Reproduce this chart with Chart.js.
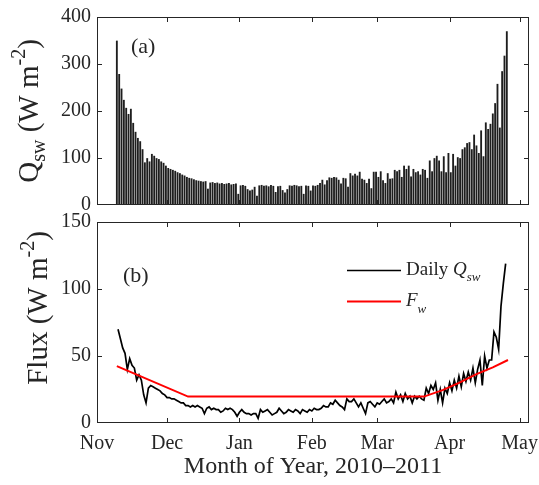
<!DOCTYPE html>
<html>
<head>
<meta charset="utf-8">
<script src="https://cdn.jsdelivr.net/npm/chart.js@4/dist/chart.umd.min.js"></script>
<style>
  html, body { margin: 0; padding: 0; background: #fff; }
  #wrap { position: relative; width: 539px; height: 485px; }
  .panel { position: absolute; left: 0; width: 539px; }
</style>
</head>
<body>
<div id="wrap">
  <div class="panel" style="top:0;height:212px"><canvas id="chartTop"></canvas></div>
  <div class="panel" style="top:212px;height:273px"><canvas id="chartBottom"></canvas></div>
</div>
<script>
// month ticks (days since 1 Nov 2010)
const monthDays = [0, 30, 61, 92, 120, 151, 181];
const monthLabels = ['Nov', 'Dec', 'Jan', 'Feb', 'Mar', 'Apr', 'May'];
const qswTicks = [0, 100, 200, 300, 400];
const fluxTicks = [0, 50, 100, 150];

// (a) noon peak of hourly Q_sw, one per day, first one on 9 Nov
const peakFirstDay = 8.5;
const hourlyPeak = [349, 278, 247, 223, 206, 193, 204, 174, 155, 142, 135, 118, 90, 99, 92, 108, 104, 99, 97, 92, 89, 83, 78,
  76, 74, 72, 69, 67, 64, 62, 59, 57, 56, 54, 52, 51, 50, 49, 50,
  34, 47, 48, 46, 47, 45, 46, 44, 45, 46, 43, 44, 45, 23,
  41, 42, 40, 33, 30, 32, 38, 19, 41, 42, 40, 41, 39, 42, 40, 27,
  39, 40, 31, 26, 33, 41, 40, 42, 41, 39, 40, 23, 41, 40, 30, 41, 40, 42, 46,
  53, 43, 52, 58, 57, 59, 58, 53, 45, 57, 56, 38,
  67, 62, 66, 62, 70, 55, 53, 46, 55, 35, 70, 70, 59, 71, 52, 46,
  67, 55, 56, 74, 71, 74, 59, 83, 76, 83, 60, 76, 69, 71, 64, 76, 74, 57,
  94, 71, 99, 104, 94, 71, 103, 69, 110, 69, 108, 83, 101, 99, 118, 122,
  131, 133, 118, 149, 126, 110, 158, 103, 175, 161, 172, 194, 216, 257, 164, 284, 317, 369];

// (b) daily mean Q_sw, first day 10 Nov
const dailyFirstDay = 9;
const dailyQsw = [70, 63, 56, 52, 40, 48, 43, 41, 32, 36, 32, 21,
  15, 26, 28, 27, 26, 25, 24, 22, 21, 19, 19, 18, 18, 17, 16, 15, 15, 13, 13, 12,
  13, 12, 13, 12, 11, 7, 11, 12, 10, 11, 10, 10, 8, 9, 11, 10, 11, 10, 8, 5,
  8, 10, 8, 7, 7, 6, 7, 7, 3.5, 10, 8, 9, 10, 8, 6, 7, 8, 11, 9, 7,
  8, 10, 9, 8, 10, 9, 7, 10, 9, 8, 10, 9, 11, 10, 10, 11, 13, 12, 12, 15,
  14, 17, 15, 13, 12, 10, 18, 16, 16, 18, 15, 12, 15, 11, 7, 15, 16, 14, 12, 15,
  14, 16, 18, 15, 16, 18, 15, 23, 18, 21, 16, 22, 18, 20, 15, 20, 18, 20, 18, 17,
  26, 22, 28, 25, 30, 17, 25, 15, 26, 22, 30, 24, 32, 26, 35, 27, 37, 31, 38, 32,
  41, 30, 40, 47, 28, 50, 41, 47, 47, 68, 64, 55, 87, 104, 119];

// F_w
const fwDays = [8.5, 39, 140, 148, 155, 162.5, 169.5, 176];
const fwValues = [42.5, 19.7, 19.7, 24.5, 30, 36.5, 41.5, 47];

const SERIF = '"Liberation Serif", "Times New Roman", serif';
const INK = '#262626';

// draw a run of text pieces (for sub/superscripts)
function partsWidth(ctx, parts) {
  let w = 0;
  parts.forEach(p => { ctx.font = p.font; w += ctx.measureText(p.text).width; });
  return w;
}
function drawParts(ctx, parts, x, y) {
  parts.forEach(p => {
    ctx.font = p.font;
    ctx.fillText(p.text, x, y + (p.dy || 0));
    x += ctx.measureText(p.text).width;
  });
}

// keep the plot box where layout.padding puts it
function noScalePadding(s) {
  s.paddingTop = 0; s.paddingBottom = 0; s.paddingLeft = 0; s.paddingRight = 0;
}

// box with inward ticks on all four sides
const frameBox = {
  id: 'frameBox',
  afterDraw(chart) {
    const ctx = chart.ctx;
    const a = chart.chartArea;
    const xs = chart.scales.x, ys = chart.scales.y;
    const yt = chart.options.plugins.frameBox.yTicks;
    const len = 5;
    ctx.save();
    ctx.strokeStyle = INK;
    ctx.lineWidth = 1;
    ctx.strokeRect(a.left + 0.5, a.top + 0.5, a.right - a.left - 1, a.bottom - a.top - 1);
    ctx.beginPath();
    monthDays.forEach(d => {
      const px = Math.round(xs.getPixelForValue(d)) + 0.5;
      if (px <= a.left + 1 || px >= a.right - 1) return;
      ctx.moveTo(px, a.bottom); ctx.lineTo(px, a.bottom - len);
      ctx.moveTo(px, a.top); ctx.lineTo(px, a.top + len);
    });
    yt.forEach(v => {
      const py = Math.round(ys.getPixelForValue(v)) + 0.5;
      if (py <= a.top + 1 || py >= a.bottom - 1) return;
      ctx.moveTo(a.left, py); ctx.lineTo(a.left + len, py);
      ctx.moveTo(a.right, py); ctx.lineTo(a.right - len, py);
    });
    ctx.stroke();
    ctx.restore();
  }
};

// axis titles, panel letters and legend
const annotations = {
  id: 'annotations',
  afterDraw(chart) {
    const o = chart.options.plugins.annotations;
    const ctx = chart.ctx;
    ctx.save();
    ctx.fillStyle = INK;
    ctx.textBaseline = 'alphabetic';
    // rotated y title
    ctx.save();
    ctx.translate(o.yTitleX, o.yTitleY);
    ctx.rotate(-Math.PI / 2);
    drawParts(ctx, o.yTitle, -partsWidth(ctx, o.yTitle) / 2, 0);
    ctx.restore();
    ctx.font = '22px ' + SERIF;
    ctx.fillText(o.panel, o.panelX, o.panelY);
    if (o.xTitle) {
      ctx.font = '24px ' + SERIF;
      ctx.textAlign = 'center';
      ctx.fillText(o.xTitle, (chart.chartArea.left + chart.chartArea.right) / 2, o.xTitleY);
      ctx.textAlign = 'left';
    }
    if (o.legend) {
      o.legend.forEach((item, i) => {
        const ds = chart.data.datasets[i];
        ctx.strokeStyle = ds.borderColor;
        ctx.lineWidth = ds.borderWidth;
        ctx.beginPath();
        ctx.moveTo(o.legendX, item.y);
        ctx.lineTo(o.legendX + 54, item.y);
        ctx.stroke();
        drawParts(ctx, item.parts, o.legendX + 59, item.y + 4);
      });
    }
    ctx.restore();
  }
};

const big = '29px ' + SERIF, small = '20px ' + SERIF;
const tickFont = { family: SERIF, size: 20 };

new Chart(document.getElementById('chartTop'), {
  type: 'bar',
  data: {
    datasets: [{
      data: hourlyPeak.map((v, i) => ({ x: peakFirstDay + i, y: v })),
      backgroundColor: '#1e1e1e',
      borderWidth: 0,
      barThickness: 1.2
    }]
  },
  options: {
    responsive: true,
    maintainAspectRatio: false,
    animation: false,
    layout: { padding: { top: 17, right: 10, bottom: 7, left: 0 } },
    plugins: {
      legend: { display: false },
      tooltip: { enabled: false },
      frameBox: { yTicks: qswTicks },
      annotations: {
        yTitle: [
          { text: 'Q', font: big },
          { text: 'sw', font: small, dy: 7 },
          { text: ' (W m', font: big },
          { text: '-2', font: small, dy: -13 },
          { text: ')', font: big }
        ],
        yTitleX: 38, yTitleY: 111,
        panel: '(a)', panelX: 131, panelY: 53
      }
    },
    scales: {
      x: { type: 'linear', min: 0, max: 185, offset: false, display: false, afterFit: noScalePadding },
      y: {
        min: 0, max: 400,
        grid: { display: false, drawTicks: false },
        border: { display: false },
        ticks: { font: tickFont, color: INK, padding: 6 },
        afterBuildTicks: s => { s.ticks = qswTicks.map(v => ({ value: v })); },
        afterFit: s => { s.width = 97; noScalePadding(s); }
      }
    }
  },
  plugins: [frameBox, annotations]
});

new Chart(document.getElementById('chartBottom'), {
  type: 'line',
  data: {
    datasets: [{
      label: 'Daily Qsw',
      data: dailyQsw.map((v, i) => ({ x: dailyFirstDay + i, y: v })),
      borderColor: '#000000',
      borderWidth: 1.7,
      pointRadius: 0,
      order: 1
    }, {
      label: 'Fw',
      data: fwValues.map((v, i) => ({ x: fwDays[i], y: v })),
      borderColor: '#ff0000',
      borderWidth: 2,
      pointRadius: 0,
      order: 0
    }]
  },
  options: {
    responsive: true,
    maintainAspectRatio: false,
    animation: false,
    layout: { padding: { top: 10, right: 10, bottom: 0, left: 0 } },
    plugins: {
      legend: { display: false },
      tooltip: { enabled: false },
      frameBox: { yTicks: fluxTicks },
      annotations: {
        yTitle: [
          { text: 'Flux (W m', font: big },
          { text: '-2', font: small, dy: -13 },
          { text: ')', font: big }
        ],
        yTitleX: 47, yTitleY: 96,
        panel: '(b)', panelX: 123, panelY: 70,
        xTitle: 'Month of Year, 2010\u20132011', xTitleY: 261,
        legendX: 347,
        legend: [
          { y: 58.5, parts: [{ text: 'Daily ', font: '19px ' + SERIF }, { text: 'Q', font: 'italic 19px ' + SERIF }, { text: 'sw', font: 'italic 13px ' + SERIF, dy: 6 }] },
          { y: 89.5, parts: [{ text: 'F', font: 'italic 19px ' + SERIF }, { text: 'w', font: 'italic 13px ' + SERIF, dy: 7 }] }
        ]
      }
    },
    scales: {
      x: {
        type: 'linear', min: 0, max: 185,
        grid: { display: false, drawTicks: false },
        border: { display: false },
        ticks: {
          font: tickFont, color: INK, padding: 9, maxRotation: 0,
          callback: (v, i) => monthLabels[i]
        },
        afterBuildTicks: s => { s.ticks = monthDays.map(v => ({ value: v })); },
        afterFit: s => { s.height = 62; noScalePadding(s); }
      },
      y: {
        min: 0, max: 150,
        grid: { display: false, drawTicks: false },
        border: { display: false },
        ticks: { font: tickFont, color: INK, padding: 6 },
        afterBuildTicks: s => { s.ticks = fluxTicks.map(v => ({ value: v })); },
        afterFit: s => { s.width = 97; noScalePadding(s); }
      }
    }
  },
  plugins: [frameBox, annotations]
});
</script>
</body>
</html>
